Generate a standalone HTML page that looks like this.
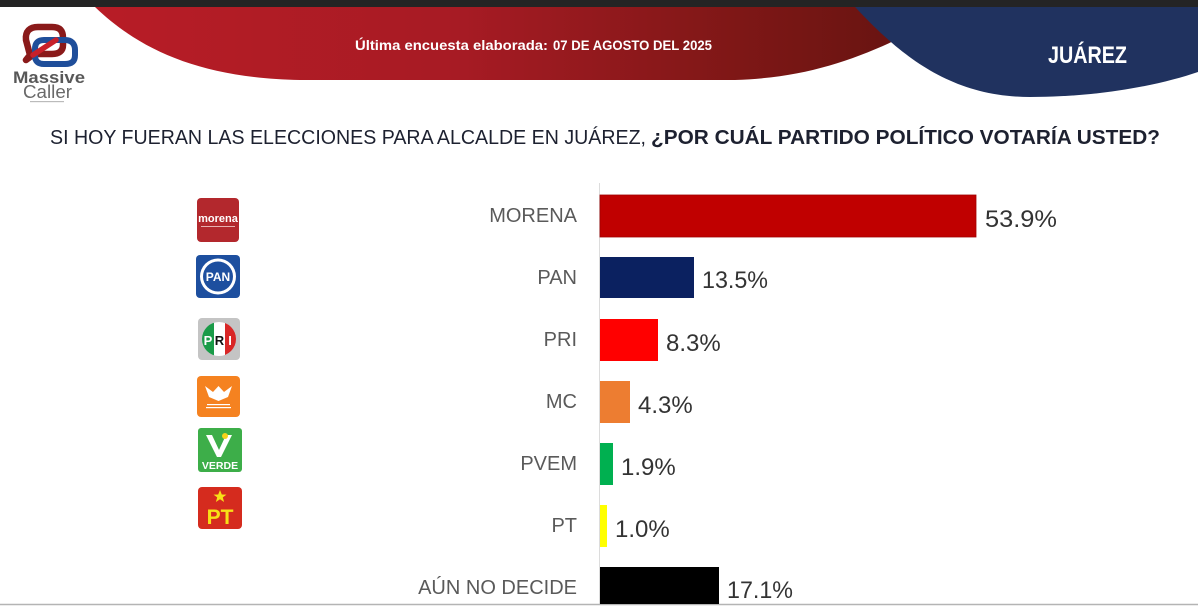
<!DOCTYPE html>
<html>
<head>
<meta charset="utf-8">
<style>
  html, body { margin:0; padding:0; background:#fff; }
  body { width:1198px; height:607px; overflow:hidden; }
  svg { display:block; }
  text { font-family: "Liberation Sans", "DejaVu Sans", sans-serif; }
</style>
</head>
<body>
<svg width="1198" height="607" viewBox="0 0 1198 607" xmlns="http://www.w3.org/2000/svg">
  <defs>
    <linearGradient id="redg" x1="95" y1="0" x2="900" y2="0" gradientUnits="userSpaceOnUse">
      <stop offset="0" stop-color="#b81c26"/>
      <stop offset="0.45" stop-color="#a71b24"/>
      <stop offset="0.8" stop-color="#7e1716"/>
      <stop offset="1" stop-color="#681411"/>
    </linearGradient>
    <clipPath id="priclip"><circle cx="219" cy="339" r="17"/></clipPath>
  </defs>

  <rect x="0" y="0" width="1198" height="607" fill="#ffffff"/>

  <!-- header shapes -->
  <path d="M95,7 C140,50 200,78 300,80 L735,80 C800,78 850,62 900,38 L900,7 Z" fill="url(#redg)"/>
  <path d="M855,7 C900,55 950,97 1030,97 C1100,97 1160,85 1198,72 L1198,7 Z" fill="#20325f"/>
  <rect x="0" y="0" width="1198" height="7" fill="#242424"/>

  <text x="355" y="50" font-size="13.5" font-weight="bold" fill="#ffffff" textLength="193" lengthAdjust="spacingAndGlyphs">Última encuesta elaborada:</text>
  <text x="553" y="50" font-size="13.5" font-weight="bold" fill="#ffffff" textLength="159" lengthAdjust="spacingAndGlyphs">07 DE AGOSTO DEL 2025</text>
  <text x="1048" y="63" font-size="24" font-weight="bold" fill="#ffffff" textLength="79" lengthAdjust="spacingAndGlyphs">JUÁREZ</text>

  <!-- Massive Caller logo -->
  <g fill="none" stroke-linecap="round" stroke-linejoin="round">
    <path d="M30,55 L26,40 C25,31 30,27 38,27 L52,27 C60,27 63,31 63,38 L63,45 C63,51 59,54 52,54 L34,54 L26,60 Z" stroke="#8a1a1a" stroke-width="6.5"/>
    <path d="M44,40 L65,40 C72,40 75,44 75,50 L75,55 C75,61 72,64 65,64 L44,64 C38,64 35,61 35,56 L35,49 C35,43 38,40 44,40 Z" stroke="#1f4e9a" stroke-width="6"/>
    <path d="M33,55 L56,40" stroke="#c8202a" stroke-width="5.5"/>
  </g>
  <text x="13" y="83" font-size="17" font-weight="bold" fill="#585858" textLength="72" lengthAdjust="spacingAndGlyphs">Massive</text>
  <text x="23" y="98" font-size="18" fill="#6a6a6a" textLength="49" lengthAdjust="spacingAndGlyphs">Caller</text>
  <rect x="30" y="101" width="34" height="1.2" fill="#bbbbbb"/>

  <!-- title -->
  <text x="50" y="144" font-size="20" fill="#1d2130" textLength="596" lengthAdjust="spacingAndGlyphs">SI HOY FUERAN LAS ELECCIONES PARA ALCALDE EN JUÁREZ,</text>
  <text x="651" y="144" font-size="20" font-weight="bold" fill="#1d2130" textLength="509" lengthAdjust="spacingAndGlyphs">¿POR CUÁL PARTIDO POLÍTICO VOTARÍA USTED?</text>

  <!-- axis -->
  <line x1="599.5" y1="183" x2="599.5" y2="604" stroke="#dcdcdc" stroke-width="1"/>
  <line x1="0" y1="604.5" x2="1198" y2="604.5" stroke="#b4b4b4" stroke-width="1.6"/>

  <!-- bars -->
  <rect x="600" y="195" width="376" height="42" fill="#c00000"/>
  <rect x="600" y="195" width="376" height="42" fill="none" stroke="#a00000" stroke-width="0.8"/>
  <rect x="600" y="257" width="94" height="41" fill="#0b2160"/>
  <rect x="600" y="319" width="58" height="42" fill="#ff0000"/>
  <rect x="600" y="381" width="30" height="42" fill="#ed7d31"/>
  <rect x="600" y="443" width="13" height="42" fill="#00b050"/>
  <rect x="600" y="505" width="7" height="42" fill="#ffff00"/>
  <rect x="600" y="567" width="119" height="37" fill="#000000"/>

  <!-- category labels -->
  <g font-size="20" fill="#5a5a5a" text-anchor="end">
    <text x="577" y="222">MORENA</text>
    <text x="577" y="284">PAN</text>
    <text x="577" y="346">PRI</text>
    <text x="577" y="408">MC</text>
    <text x="577" y="470">PVEM</text>
    <text x="577" y="532">PT</text>
    <text x="577" y="594">AÚN NO DECIDE</text>
  </g>

  <!-- values -->
  <g font-size="24" fill="#333333">
    <text x="985" y="227" textLength="72" lengthAdjust="spacingAndGlyphs">53.9%</text>
    <text x="702" y="288" textLength="66" lengthAdjust="spacingAndGlyphs">13.5%</text>
    <text x="666" y="351">8.3%</text>
    <text x="638" y="413">4.3%</text>
    <text x="621" y="475">1.9%</text>
    <text x="615" y="537">1.0%</text>
    <text x="727" y="598" textLength="66" lengthAdjust="spacingAndGlyphs">17.1%</text>
  </g>

  <!-- party logos -->
  <!-- MORENA -->
  <rect x="197" y="198" width="42" height="44" rx="4" fill="#b3282d"/>
  <text x="218" y="222" font-size="11" font-weight="bold" fill="#ffffff" text-anchor="middle">morena</text>
  <rect x="201" y="226" width="34" height="1" fill="#e8b0b0"/>

  <!-- PAN -->
  <rect x="196" y="255" width="44" height="43" rx="4" fill="#1d4f9f"/>
  <circle cx="218" cy="276.5" r="18" fill="#ffffff"/>
  <circle cx="218" cy="276.5" r="15" fill="#1d4f9f"/>
  <text x="218" y="281" font-size="12" font-weight="bold" fill="#ffffff" text-anchor="middle">PAN</text>

  <!-- PRI -->
  <rect x="198" y="318" width="42" height="42" rx="4" fill="#c4c4c4"/>
  <g clip-path="url(#priclip)">
    <rect x="202" y="322" width="12" height="34" fill="#1a9b48"/>
    <rect x="214" y="322" width="11" height="34" fill="#ffffff"/>
    <rect x="225" y="322" width="12" height="34" fill="#d92727"/>
  </g>
  <text x="208" y="345" font-size="13" font-weight="bold" fill="#ffffff" text-anchor="middle">P</text>
  <text x="219.5" y="345" font-size="13" font-weight="bold" fill="#111111" text-anchor="middle">R</text>
  <text x="230" y="345" font-size="13" font-weight="bold" fill="#ffffff" text-anchor="middle">I</text>

  <!-- MC -->
  <rect x="197" y="376" width="43" height="41" rx="4" fill="#f58220"/>
  <path d="M205,386 L213,392 L218.5,386 L224,392 L232,386 L228,397 L218.5,401 L209,397 Z" fill="#ffffff"/>
  <rect x="207" y="404" width="23" height="1.2" fill="#ffffff"/>
  <rect x="206" y="407" width="25" height="1.2" fill="#ffffff"/>

  <!-- VERDE -->
  <rect x="198" y="428" width="44" height="44" rx="3" fill="#3dae49"/>
  <path d="M206,435 L212,435 L219,450 L226,435 L232,435 L221,457 L217,457 Z" fill="#ffffff"/>
  <circle cx="225" cy="436" r="3" fill="#f7d21b"/>
  <text x="220" y="469" font-size="10.5" font-weight="bold" fill="#ffffff" text-anchor="middle">VERDE</text>

  <!-- PT -->
  <rect x="198" y="487" width="44" height="42" rx="4" fill="#d52b1e"/>
  <path d="M220,490 L221.8,494.5 L226.5,494.6 L222.8,497.4 L224.1,502 L220,499.3 L215.9,502 L217.2,497.4 L213.5,494.6 L218.2,494.5 Z" fill="#f7e017"/>
  <text x="220" y="524" font-size="21" font-weight="bold" fill="#f7e017" text-anchor="middle">PT</text>
</svg>
</body>
</html>
